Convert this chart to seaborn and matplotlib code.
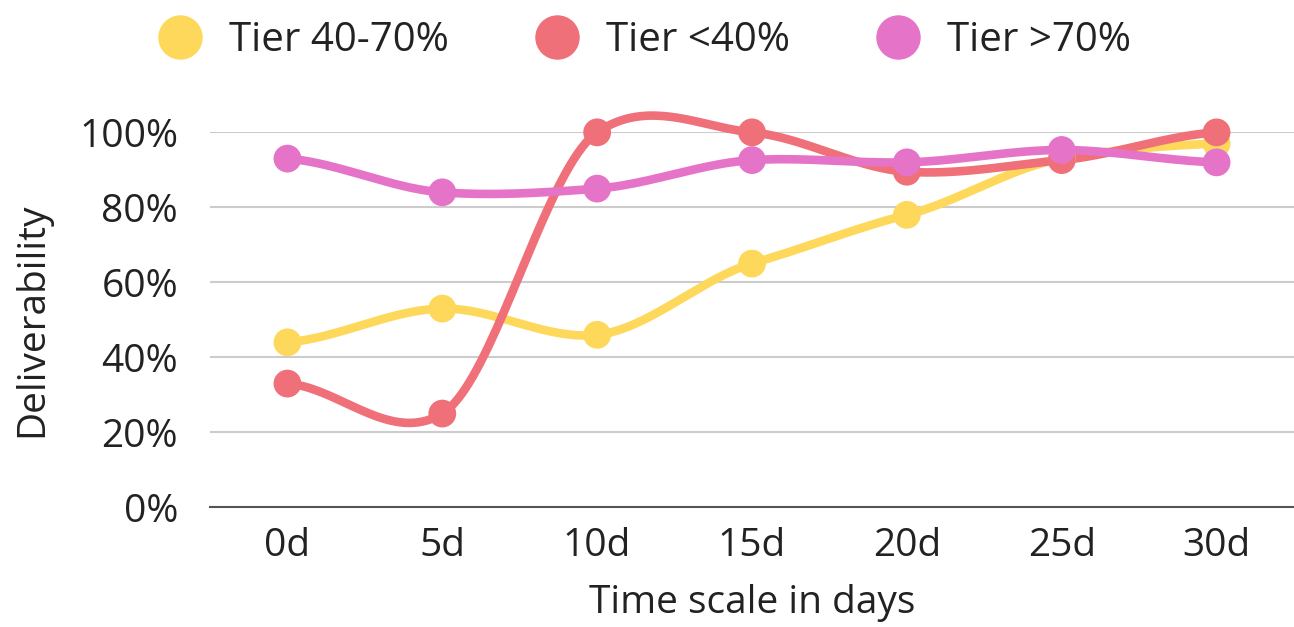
import numpy as np
import pandas as pd
import matplotlib
matplotlib.use("Agg")
import matplotlib.pyplot as plt
from matplotlib.lines import Line2D
import seaborn as sns

# ---- data ----
days = ["0d", "5d", "10d", "15d", "20d", "25d", "30d"]
tier_mid = [44, 53, 46, 65, 78, 93, 97]      # Tier 40-70%
tier_low = [33, 25, 100, 100, 89.5, 92.6, 100]  # Tier <40%
tier_high = [93, 84, 85, 92.6, 92, 95.3, 92]   # Tier >70%

series = {"Tier 40-70%": tier_mid, "Tier <40%": tier_low, "Tier >70%": tier_high}
colors = {"Tier 40-70%": "#FDD85B", "Tier <40%": "#EF7078", "Tier >70%": "#E574C9"}


def smooth(y, n=40, tension=0.75):
    # cardinal-spline curve through the points (drawing only)
    y = np.asarray(y, dtype=float)
    k = len(y)
    m = np.zeros(k)
    m[1:-1] = (y[2:] - y[:-2]) / 2
    m[0] = (y[1] - y[0]) / 2
    m[-1] = (y[-1] - y[-2]) / 2
    m = m * tension
    xs, ys = [], []
    for i in range(k - 1):
        t = np.linspace(0, 1, n, endpoint=(i == k - 2))
        h00 = 2 * t**3 - 3 * t**2 + 1
        h10 = t**3 - 2 * t**2 + t
        h01 = -2 * t**3 + 3 * t**2
        h11 = t**3 - t**2
        xs.append(i + t)
        ys.append(h00 * y[i] + h10 * m[i] + h01 * y[i + 1] + h11 * m[i + 1])
    return np.concatenate(xs), np.concatenate(ys)


pts = pd.DataFrame(
    [(i, v, name) for name, vals in series.items() for i, v in enumerate(vals)],
    columns=["x", "y", "tier"],
)
curves = []
for name, vals in series.items():
    sx, sy = smooth(vals)
    curves.append(pd.DataFrame({"x": sx, "y": sy, "tier": name}))
curves = pd.concat(curves)

sns.set_theme(style="white")
plt.rcParams["font.family"] = ["Open Sans", "DejaVu Sans"]

fig = plt.figure(figsize=(12.94, 6.27), dpi=100)
ax = fig.add_axes([0.1623, 0.1909, 0.8377, 0.598])

sns.lineplot(data=curves, x="x", y="y", hue="tier", palette=colors, linewidth=6.2,
             legend=False, ax=ax, clip_on=False, sort=False, estimator=None)
sns.scatterplot(data=pts, x="x", y="y", hue="tier", palette=colors, s=400,
                linewidth=0, legend=False, ax=ax, clip_on=False, zorder=5)

ax.set_xlim(-0.5, 6.5)
ax.set_ylim(0, 100)
ax.set_yticks([0, 20, 40, 60, 80, 100])
ax.set_yticklabels([f"{v}%" for v in [0, 20, 40, 60, 80, 100]])
ax.set_xticks(range(len(days)))
ax.set_xticklabels(days)
ax.tick_params(axis="both", labelsize=28, colors="#222222", length=0)
ax.tick_params(axis="y", pad=23)
ax.tick_params(axis="x", pad=14)

for v in [20, 40, 60, 80, 100]:
    ax.axhline(v, color="#CCCCCC", linewidth=1.5, zorder=0)
for s in ["top", "right", "left"]:
    ax.spines[s].set_visible(False)
ax.spines["bottom"].set_color("#555555")
ax.spines["bottom"].set_linewidth(1.5)

ax.set_xlabel("Time scale in days", fontsize=28, color="#222222", labelpad=14)
ax.set_ylabel("Deliverability", fontsize=28, color="#222222", labelpad=20)

handles = [Line2D([], [], marker="o", linestyle="", markersize=32,
                  markerfacecolor=c, markeredgewidth=0) for c in colors.values()]
fig.legend(handles, list(colors.keys()), loc="upper center", ncol=3, frameon=False,
           fontsize=29, bbox_to_anchor=(0.491, 1.025), handletextpad=0.2,
           columnspacing=1.7, labelcolor="#222222")

fig.savefig("out.png", dpi=100)
